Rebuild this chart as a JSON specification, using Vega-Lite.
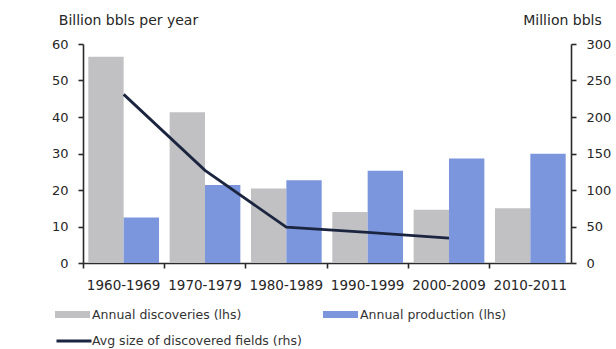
{
  "$schema": "https://vega.github.io/schema/vega-lite/v6.json",
  "width": 488,
  "height": 219,
  "autosize": {"type": "none"},
  "padding": {"left": 83, "top": 44, "right": 45, "bottom": 86},
  "background": "white",
  "config": {
    "view": {"stroke": null},
    "font": "DejaVu Sans, sans-serif",
    "axis": {
      "grid": false,
      "domainColor": "#2a2a2a",
      "domainWidth": 1.6,
      "tickColor": "#2a2a2a",
      "tickWidth": 1.6,
      "tickSize": 5,
      "labelColor": "#262626",
      "labelFontSize": 13,
      "titleColor": "#262626",
      "titleFontSize": 14,
      "titleFontWeight": "normal"
    },
    "legend": {
      "labelColor": "#333333",
      "labelFontSize": 12.5,
      "padding": 0
    }
  },
  "datasets": {
    "volumes": [
      {"period": "1960-1969", "series": "Annual discoveries (lhs)", "value": 56.5},
      {"period": "1960-1969", "series": "Annual production (lhs)", "value": 12.5},
      {"period": "1970-1979", "series": "Annual discoveries (lhs)", "value": 41.3},
      {"period": "1970-1979", "series": "Annual production (lhs)", "value": 21.4},
      {"period": "1980-1989", "series": "Annual discoveries (lhs)", "value": 20.4},
      {"period": "1980-1989", "series": "Annual production (lhs)", "value": 22.7},
      {"period": "1990-1999", "series": "Annual discoveries (lhs)", "value": 14.0},
      {"period": "1990-1999", "series": "Annual production (lhs)", "value": 25.3},
      {"period": "2000-2009", "series": "Annual discoveries (lhs)", "value": 14.6},
      {"period": "2000-2009", "series": "Annual production (lhs)", "value": 28.6},
      {"period": "2010-2011", "series": "Annual discoveries (lhs)", "value": 15.0},
      {"period": "2010-2011", "series": "Annual production (lhs)", "value": 29.9}
    ],
    "fieldSize": [
      {"period": "1960-1969", "series": "Avg size of discovered fields (rhs)", "avg": 231},
      {"period": "1970-1979", "series": "Avg size of discovered fields (rhs)", "avg": 127},
      {"period": "1980-1989", "series": "Avg size of discovered fields (rhs)", "avg": 49},
      {"period": "1990-1999", "series": "Avg size of discovered fields (rhs)", "avg": 42},
      {"period": "2000-2009", "series": "Avg size of discovered fields (rhs)", "avg": 34}
    ]
  },
  "encoding": {
    "x": {
      "field": "period",
      "type": "nominal",
      "sort": null,
      "scale": {"paddingInner": 0, "paddingOuter": 0},
      "axis": {
        "title": null,
        "labelAngle": 0,
        "bandPosition": 0,
        "labelPadding": 10,
        "labelFontSize": 13.5
      }
    }
  },
  "layer": [
    {
      "data": {"name": "volumes"},
      "mark": {"type": "bar"},
      "encoding": {
        "xOffset": {
          "field": "series",
          "type": "nominal",
          "scale": {
            "domain": ["Annual discoveries (lhs)", "Annual production (lhs)"],
            "paddingInner": 0,
            "paddingOuter": 0.15
          }
        },
        "y": {
          "field": "value",
          "type": "quantitative",
          "scale": {"domain": [0, 60], "nice": false},
          "axis": {
            "values": [0, 10, 20, 30, 40, 50, 60],
            "title": "Billion bbls per year",
            "titleAngle": 0,
            "titleAlign": "center",
            "titleBaseline": "alphabetic",
            "titleX": 45,
            "titleY": -20,
            "labelPadding": 10
          }
        },
        "color": {
          "field": "series",
          "type": "nominal",
          "scale": {
            "domain": ["Annual discoveries (lhs)", "Annual production (lhs)"],
            "range": ["#c1c1c3", "#7b96dd"]
          },
          "legend": {
            "title": null,
            "orient": "none",
            "legendX": -28,
            "legendY": 253,
            "direction": "horizontal",
            "columns": 2,
            "columnPadding": 81,
            "symbolType": "M-1,-0.2H1V0.2H-1Z",
            "symbolSize": 1225,
            "symbolStrokeWidth": 0,
            "labelOffset": 2,
            "labelLimit": 220
          }
        }
      }
    },
    {
      "data": {"name": "fieldSize"},
      "mark": {"type": "line", "strokeWidth": 2.8, "color": "#1c2540"},
      "encoding": {
        "y": {
          "field": "avg",
          "type": "quantitative",
          "scale": {"domain": [0, 300], "nice": false},
          "axis": {
            "orient": "right",
            "values": [0, 50, 100, 150, 200, 250, 300],
            "title": "Million bbls",
            "titleAngle": 0,
            "titleAlign": "center",
            "titleBaseline": "alphabetic",
            "titleX": -9,
            "titleY": -20,
            "labelPadding": 10
          }
        },
        "stroke": {
          "field": "series",
          "type": "nominal",
          "scale": {"range": ["#1c2540"]},
          "legend": {
            "title": null,
            "orient": "none",
            "legendX": -28,
            "legendY": 278,
            "symbolType": "stroke",
            "symbolSize": 1225,
            "symbolStrokeWidth": 3,
            "labelOffset": -1,
            "labelLimit": 300
          }
        }
      }
    }
  ],
  "resolve": {"scale": {"y": "independent"}}
}
